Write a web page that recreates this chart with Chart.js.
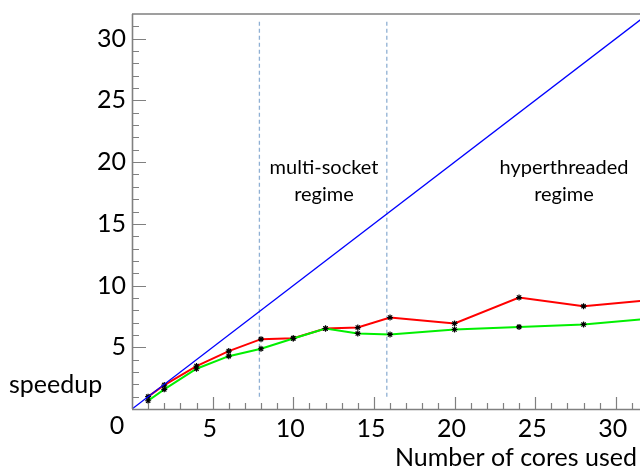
<!DOCTYPE html>
<html>
<head>
<meta charset="utf-8">
<script src="https://cdn.jsdelivr.net/npm/chart.js@4.4.1/dist/chart.umd.min.js"></script>
<style>
  html, body { margin: 0; padding: 0; background: #fff; }
  #wrap { width: 640px; height: 470px; }
</style>
</head>
<body>
<div id="wrap"><canvas id="chart" width="640" height="470"></canvas></div>
<script>
// speedup vs number of cores
var cores = [1, 2, 4, 6, 8, 10, 12, 14, 16, 20, 24, 28, 32];
var speedupRed = [1.0, 1.94, 3.48, 4.69, 5.66, 5.74, 6.52, 6.6, 7.41, 6.93, 9.03, 8.33, 8.82];
var speedupGreen = [0.67, 1.59, 3.26, 4.28, 4.88, 5.71, 6.52, 6.12, 6.04, 6.44, 6.65, 6.85, 7.3];
var idealX = [0, 32];
var regimeEdges = [7.9, 15.8];
var regimeSpan = [1, 31.6];
var xTicks = [0, 5, 10, 15, 20, 25, 30];
var yTicks = [5, 10, 15, 20, 25, 30];

var FONT = 'Lato, "Open Sans", sans-serif';
var AXIS = '#808080';

function pts(xs, ys) {
  return xs.map(function(x, i) { return { x: x, y: ys[i] }; });
}

// inward ticks, top frame, free text
var decor = {
  id: 'decor',
  afterDraw: function(chart) {
    var ctx = chart.ctx;
    var xs = chart.scales.x, ys = chart.scales.y;
    var area = chart.chartArea;
    var v;
    ctx.save();
    ctx.strokeStyle = AXIS;
    ctx.lineWidth = 1.2;
    ctx.beginPath();
    for (v = 1; v <= 31; v++) {
      var px = Math.round(xs.getPixelForValue(v)) + 0.5;
      ctx.moveTo(px, area.bottom);
      ctx.lineTo(px, area.bottom - (v % 5 === 0 ? 12 : 6));
    }
    for (v = 1; v <= 31; v++) {
      var py = Math.round(ys.getPixelForValue(v)) + 0.5;
      ctx.moveTo(area.left, py);
      ctx.lineTo(area.left + (v % 5 === 0 ? 14 : 7), py);
    }
    ctx.stroke();

    ctx.lineWidth = 1.6;
    ctx.beginPath();
    ctx.moveTo(area.left, area.top);
    ctx.lineTo(area.right, area.top);
    ctx.moveTo(area.left + 0.5, area.top);
    ctx.lineTo(area.left + 0.5, area.bottom);
    ctx.moveTo(area.left, area.bottom + 0.5);
    ctx.lineTo(area.right, area.bottom + 0.5);
    ctx.stroke();

    ctx.fillStyle = '#000';
    ctx.textBaseline = 'middle';
    ctx.font = '25px ' + FONT;
    ctx.textAlign = 'center';
    ctx.fillText('0', area.left - 15, 426);

    ctx.textAlign = 'left';
    ctx.fillText('speedup', 9, 385);

    ctx.textAlign = 'right';
    ctx.fillText('Number of cores used', 637, 458);

    ctx.font = '20px ' + FONT;
    ctx.textAlign = 'center';
    ctx.fillText('multi-socket', 324, 168);
    ctx.fillText('regime', 324, 195);
    ctx.fillText('hyperthreaded', 564, 168);
    ctx.fillText('regime', 564, 195);
    ctx.restore();
  }
};

var datasets = [
  {
    data: pts(idealX, idealX),
    borderColor: '#0000ff',
    borderWidth: 1.3,
    pointRadius: 0
  },
  {
    data: pts(cores, speedupGreen),
    borderColor: '#00f000',
    borderWidth: 2,
    pointStyle: 'star',
    pointRadius: 3,
    pointBorderColor: '#000',
    pointBorderWidth: 1.2
  },
  {
    data: pts(cores, speedupRed),
    borderColor: '#ff0000',
    borderWidth: 2,
    pointStyle: 'star',
    pointRadius: 3,
    pointBorderColor: '#000',
    pointBorderWidth: 1.2
  }
];
regimeEdges.forEach(function(e) {
  datasets.push({
    data: pts([e, e], regimeSpan),
    borderColor: '#8fb0d4',
    borderWidth: 1.3,
    borderDash: [4, 3],
    pointRadius: 0
  });
});

new Chart(document.getElementById('chart'), {
  type: 'line',
  data: { datasets: datasets },
  options: {
    responsive: false,
    animation: false,
    layout: { autoPadding: false, padding: { top: 14, right: 0, left: 0, bottom: 0 } },
    plugins: { legend: { display: false }, tooltip: { enabled: false } },
    scales: {
      x: {
        type: 'linear',
        min: 0,
        max: 31.5,
        grid: { display: false, drawTicks: false },
        border: { display: false },
        afterFit: function(s) { s.height = 61; s.paddingLeft = 0; s.paddingRight = 0; },
        afterBuildTicks: function(s) {
          s.ticks = xTicks.filter(function(t) { return t > 0; }).map(function(t) { return { value: t }; });
        },
        ticks: { padding: 5, labelOffset: -3, color: '#000', font: { family: FONT, size: 25 }, maxRotation: 0 }
      },
      y: {
        type: 'linear',
        min: 0,
        max: 32,
        grid: { display: false, drawTicks: false },
        border: { display: false },
        afterFit: function(s) { s.width = 132; s.paddingTop = 0; s.paddingBottom = 0; },
        afterBuildTicks: function(s) {
          s.ticks = yTicks.map(function(t) { return { value: t }; });
        },
        ticks: { padding: 6, color: '#000', font: { family: FONT, size: 25 } }
      }
    }
  },
  plugins: [decor]
});
</script>
</body>
</html>
